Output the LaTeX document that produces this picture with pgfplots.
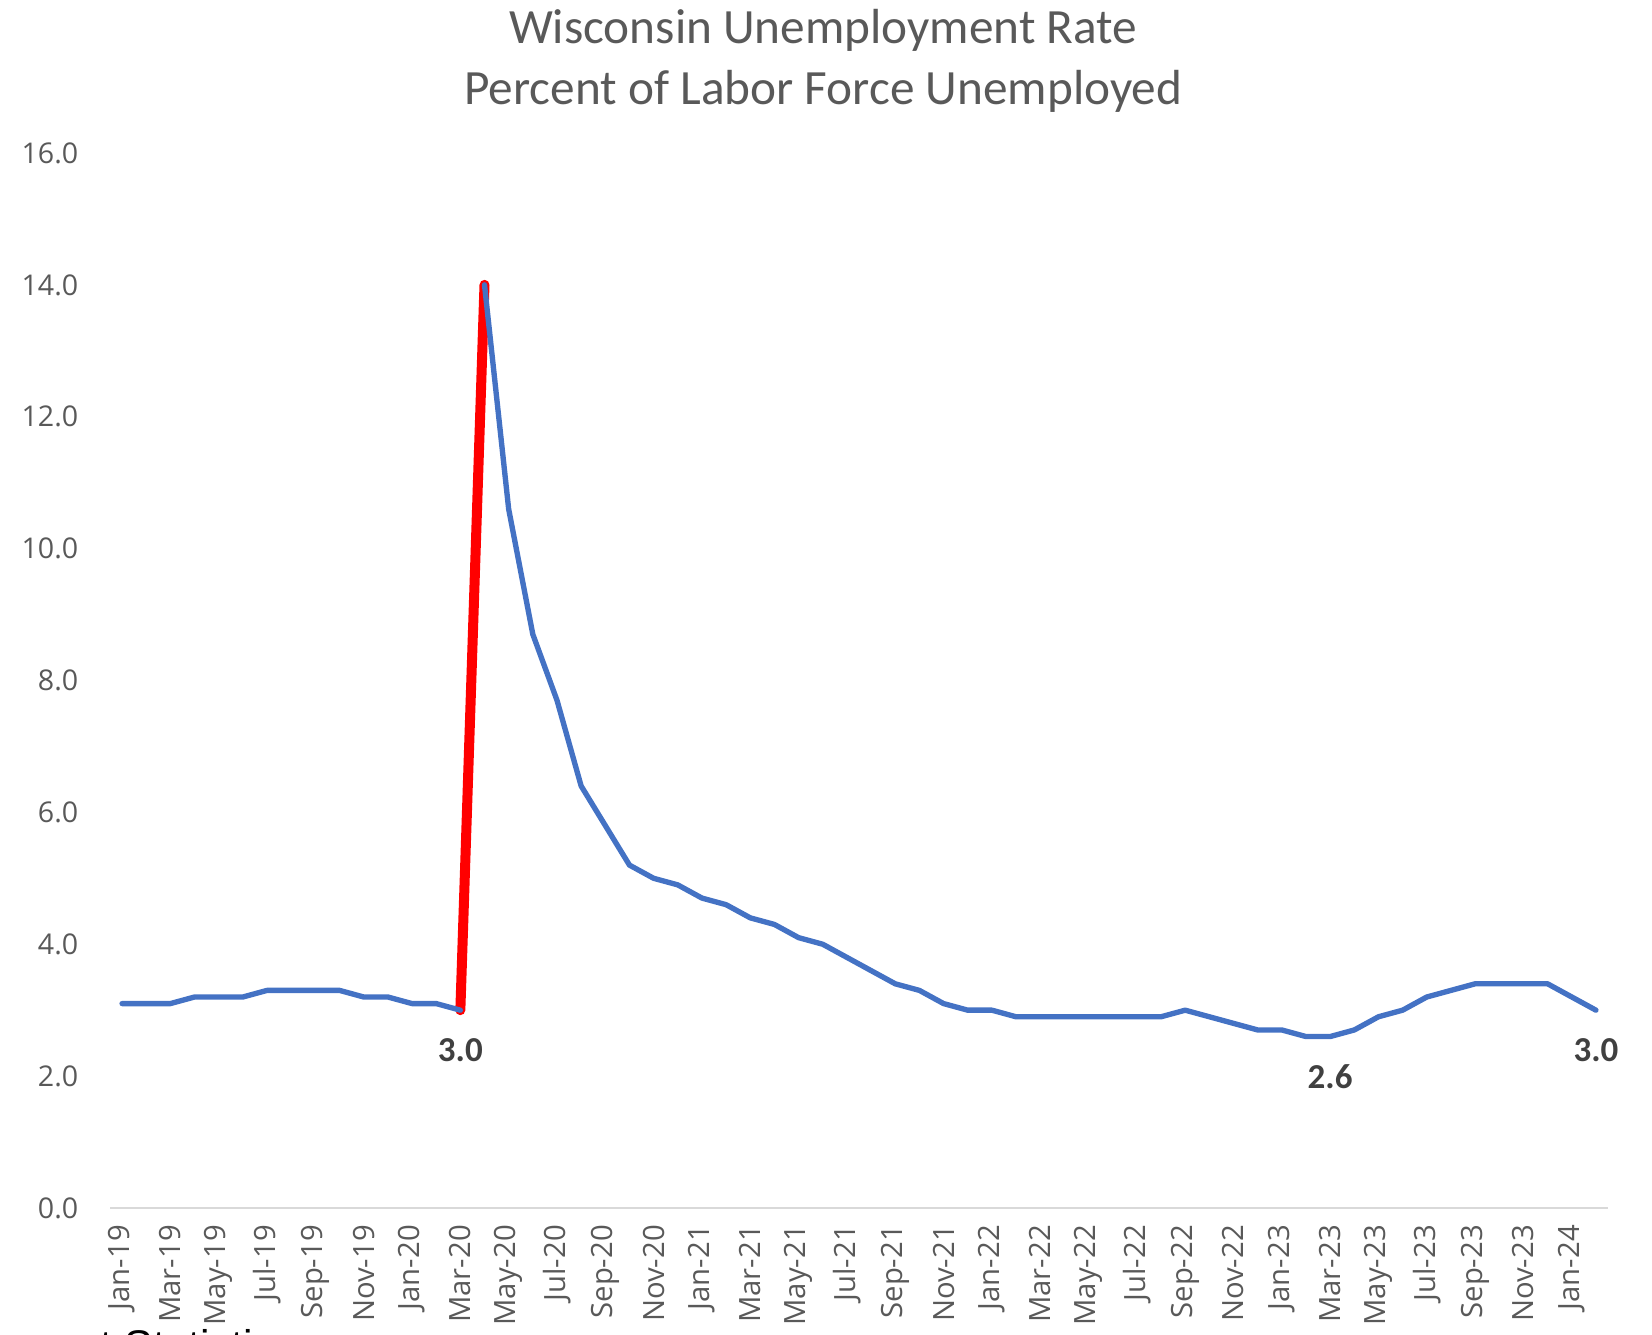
\documentclass[border=0pt]{standalone}
\usepackage{pgfplots}
\pgfplotsset{compat=1.18}
\usepackage{pgfplotstable}
\usepackage{fontspec}
\setmainfont{Carlito}
\newfontfamily\tickfont{Open Sans}
\newfontfamily\srcfont{Liberation Sans}
\definecolor{lineblue}{HTML}{4472C4}
\definecolor{txtgray}{HTML}{595959}
\definecolor{lblgray}{HTML}{404040}
\definecolor{axgray}{HTML}{D9D9D9}

\pgfplotstableread{
x y
0 3.1
1 3.1
2 3.1
3 3.2
4 3.2
5 3.2
6 3.3
7 3.3
8 3.3
9 3.3
10 3.2
11 3.2
12 3.1
13 3.1
14 3.0
}\preA

\pgfplotstableread{
x y
15 14.0
16 10.6
17 8.7
18 7.7
19 6.4
20 5.8
21 5.2
22 5.0
23 4.9
24 4.7
25 4.6
26 4.4
27 4.3
28 4.1
29 4.0
30 3.8
31 3.6
32 3.4
33 3.3
34 3.1
35 3.0
36 3.0
37 2.9
38 2.9
39 2.9
40 2.9
41 2.9
42 2.9
43 2.9
44 3.0
45 2.9
46 2.8
47 2.7
48 2.7
49 2.6
50 2.6
51 2.7
52 2.9
53 3.0
54 3.2
55 3.3
56 3.4
57 3.4
58 3.4
59 3.4
60 3.2
61 3.0
}\postA

\begin{document}
\begin{tikzpicture}
\path[use as bounding box] (0,0) rectangle (462.56pt,373.8pt);
\begin{axis}[
  at={(30.8pt,35.56pt)}, anchor=south west,
  width=419.44pt, height=295.4pt, scale only axis,
  xmin=-0.5, xmax=61.5, ymin=0, ymax=16,
  clip=false,
  axis x line*=bottom, axis y line*=left,
  y axis line style={draw=none},
  x axis line style={draw=axgray, line width=0.6pt},
  major tick length=0pt,
  ytick={0,2,...,16},
  xtick={0,2,...,60},
  xticklabels={Jan-19,Mar-19,May-19,Jul-19,Sep-19,Nov-19,Jan-20,Mar-20,May-20,Jul-20,Sep-20,Nov-20,Jan-21,Mar-21,May-21,Jul-21,Sep-21,Nov-21,Jan-22,Mar-22,May-22,Jul-22,Sep-22,Nov-22,Jan-23,Mar-23,May-23,Jul-23,Sep-23,Nov-23,Jan-24},
  /pgf/number format/assume math mode=true,
  yticklabel style={font=\fontsize{8pt}{9pt}\tickfont, text=txtgray, anchor=east, inner sep=0pt, /pgf/number format/.cd, fixed, fixed zerofill, precision=1},
  yticklabel shift=8.7pt,
  xticklabel style={font=\fontsize{8.2pt}{9pt}\tickfont, text=txtgray, rotate=90, anchor=east, inner sep=0pt},
  xticklabel shift=4.6pt,
]
\addplot[red, line width=2.8pt, line cap=round, line join=round] coordinates {(14,3.0) (15,14.0)};
\addplot[lineblue, line width=1.5pt, line join=round, line cap=round] table[x=x,y=y] {\preA};
\addplot[lineblue, line width=1.5pt, line join=round, line cap=round] table[x=x,y=y] {\postA};
\addplot[draw=none, mark=none, nodes near coords, point meta=explicit symbolic,
  every node near coord/.style={anchor=center, yshift=-11.2pt, font=\fontsize{9.8pt}{11pt}\selectfont\bfseries, text=lblgray}]
  coordinates {(14,3.0)[3.0] (50,2.6)[2.6] (61,3.0)[3.0]};
\end{axis}
\node[anchor=base, font=\fontsize{13.8pt}{16pt}\selectfont, text=txtgray] at (230.5pt,361.5pt) {Wisconsin Unemployment Rate};
\node[anchor=base, font=\fontsize{13.8pt}{16pt}\selectfont, text=txtgray] at (230.5pt,344.5pt) {Percent of Labor Force Unemployed};
\node[anchor=base west, inner sep=0pt, font=\fontsize{12pt}{14pt}\srcfont, text=black] at (-110pt,-7.1pt) {Local Area Unemployment Statistics};
\end{tikzpicture}
\end{document}
